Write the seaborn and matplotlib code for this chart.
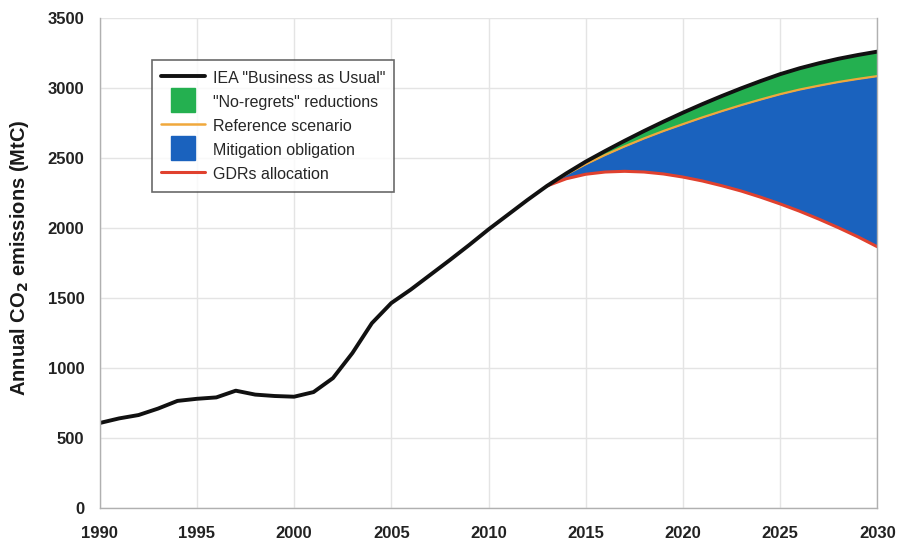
import matplotlib
matplotlib.use("Agg")
import matplotlib.pyplot as plt
import pandas as pd
import seaborn as sns
from matplotlib.lines import Line2D

# IEA "Business as Usual" emissions, 1990-2030 (MtC)
years = list(range(1990, 2031))
bau = [607, 640, 664, 710, 765, 780, 790, 838, 810, 800,
       795, 828, 928, 1107, 1320, 1464, 1560, 1665, 1770, 1878,
       1990, 2095, 2200, 2300, 2390, 2474, 2550, 2623, 2693, 2760,
       2824, 2885, 2943, 2998, 3050, 3099, 3141, 3177, 3209, 3236, 3260]

# scenarios diverge from 2013 onward
proj_years = list(range(2013, 2031))
reference = [2300, 2382, 2456, 2522, 2583, 2640, 2693, 2742, 2790,
             2835, 2878, 2918, 2956, 2989, 3017, 3043, 3065, 3085]
gdrs = [2300, 2352, 2384, 2400, 2405, 2400, 2386, 2364, 2336,
        2302, 2264, 2220, 2172, 2120, 2063, 2002, 1937, 1866]

df = pd.DataFrame({"year": years, "bau": bau})
proj = pd.DataFrame({"year": proj_years, "reference": reference, "gdrs": gdrs})
proj = proj.merge(df, on="year")

c_black = "#111111"
c_green = "#24b050"
c_orange = "#f0a83c"
c_blue = "#1a62be"
c_red = "#e0412e"

sns.set_style("whitegrid")
plt.rcParams["font.family"] = ["Liberation Sans", "DejaVu Sans"]

fig = plt.figure(figsize=(8.98, 5.46), dpi=100)
ax = fig.add_axes([0.111, 0.0696, 0.866, 0.8974])

# filled wedges
ax.fill_between(proj["year"], proj["reference"], proj["bau"], color=c_green, lw=0)
ax.fill_between(proj["year"], proj["gdrs"], proj["reference"], color=c_blue, lw=0)

# lines
sns.lineplot(data=proj, x="year", y="gdrs", color=c_red, lw=2.2, ax=ax)
sns.lineplot(data=proj, x="year", y="reference", color=c_orange, lw=1.6, ax=ax)
sns.lineplot(data=df, x="year", y="bau", color=c_black, lw=2.8, ax=ax)

ax.set_xlim(1990, 2030)
ax.set_ylim(0, 3500)
ax.set_xticks(range(1990, 2031, 5))
ax.set_yticks(range(0, 3501, 500))
ax.tick_params(axis="both", length=0, labelsize=12, colors="#222222")
ax.tick_params(axis="x", pad=13)
ax.tick_params(axis="y", pad=11)
for lab in ax.get_xticklabels() + ax.get_yticklabels():
    lab.set_fontweight("bold")
ax.set_xlabel("")
ax.set_ylabel(r"Annual CO$_\mathbf{2}$ emissions (MtC)", fontsize=14.5,
              fontweight="bold", color="#1a1a1a")
ax.yaxis.set_label_coords(-0.088, 0.51)
ax.grid(True, color="#e4e4e4", lw=1)
for side in ["left", "bottom", "right"]:
    ax.spines[side].set_visible(True)
    ax.spines[side].set_color("#b0b0b0")
    ax.spines[side].set_linewidth(1)
ax.spines["top"].set_visible(False)

handles = [
    Line2D([], [], color=c_black, lw=2.8),
    Line2D([], [], color=c_green, marker="s", ls="none", markersize=17),
    Line2D([], [], color=c_orange, lw=1.8),
    Line2D([], [], color=c_blue, marker="s", ls="none", markersize=17),
    Line2D([], [], color=c_red, lw=2.2),
]
labels = ['IEA "Business as Usual"', '"No-regrets" reductions',
          "Reference scenario", "Mitigation obligation", "GDRs allocation"]
leg = ax.legend(handles, labels, loc="upper left", bbox_to_anchor=(0.067, 0.914),
                fontsize=11.5, frameon=True, fancybox=False, handlelength=2.8,
                handleheight=1.3, labelspacing=0.42, borderpad=0.55,
                handletextpad=0.5, borderaxespad=0)
leg.get_frame().set_edgecolor("#444444")
leg.get_frame().set_linewidth(1.2)

fig.savefig("out.png", dpi=100)
